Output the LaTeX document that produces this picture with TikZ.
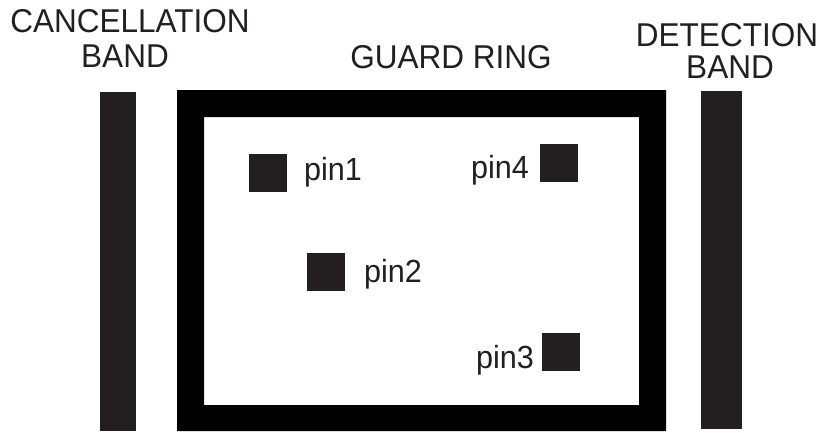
\documentclass[tikz,border=0pt]{standalone}
\usepackage{fontspec}
\setmainfont[FakeStretch=0.955]{Liberation Sans}
\definecolor{ink}{HTML}{231F20}
\begin{document}
\begin{tikzpicture}[x=1pt,y=-1pt,
  lbl/.style={font=\fontsize{33}{36}\selectfont, text=ink, inner sep=0pt, anchor=base},
  pinlbl/.style={lbl, font=\fontsize{32}{36}\selectfont},
  pad/.style={fill=ink, minimum size=38pt, inner sep=0pt, draw=none},
  band/.style={fill=ink}]
\useasboundingbox (0,0) rectangle (821,432);
% bands
\fill[band] (100,92) rectangle (136,431);
\fill[band] (701,91) rectangle (742,429);
% guard ring
\fill[black, even odd rule] (177,90) rectangle (666,431) (204,117) rectangle (639,405);
% pins
\node[pad] (p1) at (268,173) {};
\node[pad] (p2) at (326,272) {};
\node[pad] (p3) at (561,352) {};
\node[pad] (p4) at (559,163) {};
\node[pinlbl] (l1) at (333,180) {pin1};
\node[pinlbl] (l2) at (393,282) {pin2};
\node[pinlbl] (l3) at (505,368) {pin3};
\node[pinlbl] (l4) at (500,178) {pin4};
% titles
\node[lbl] (t1) at (130,32) {CANCELLATION};
\node[lbl] (t2) at (125,67) {BAND};
\node[lbl] (t3) at (451,68) {GUARD RING};
\node[lbl] (t4) at (727,46) {DETECTION};
\node[lbl] (t5) at (730,78) {BAND};
\end{tikzpicture}
\end{document}
